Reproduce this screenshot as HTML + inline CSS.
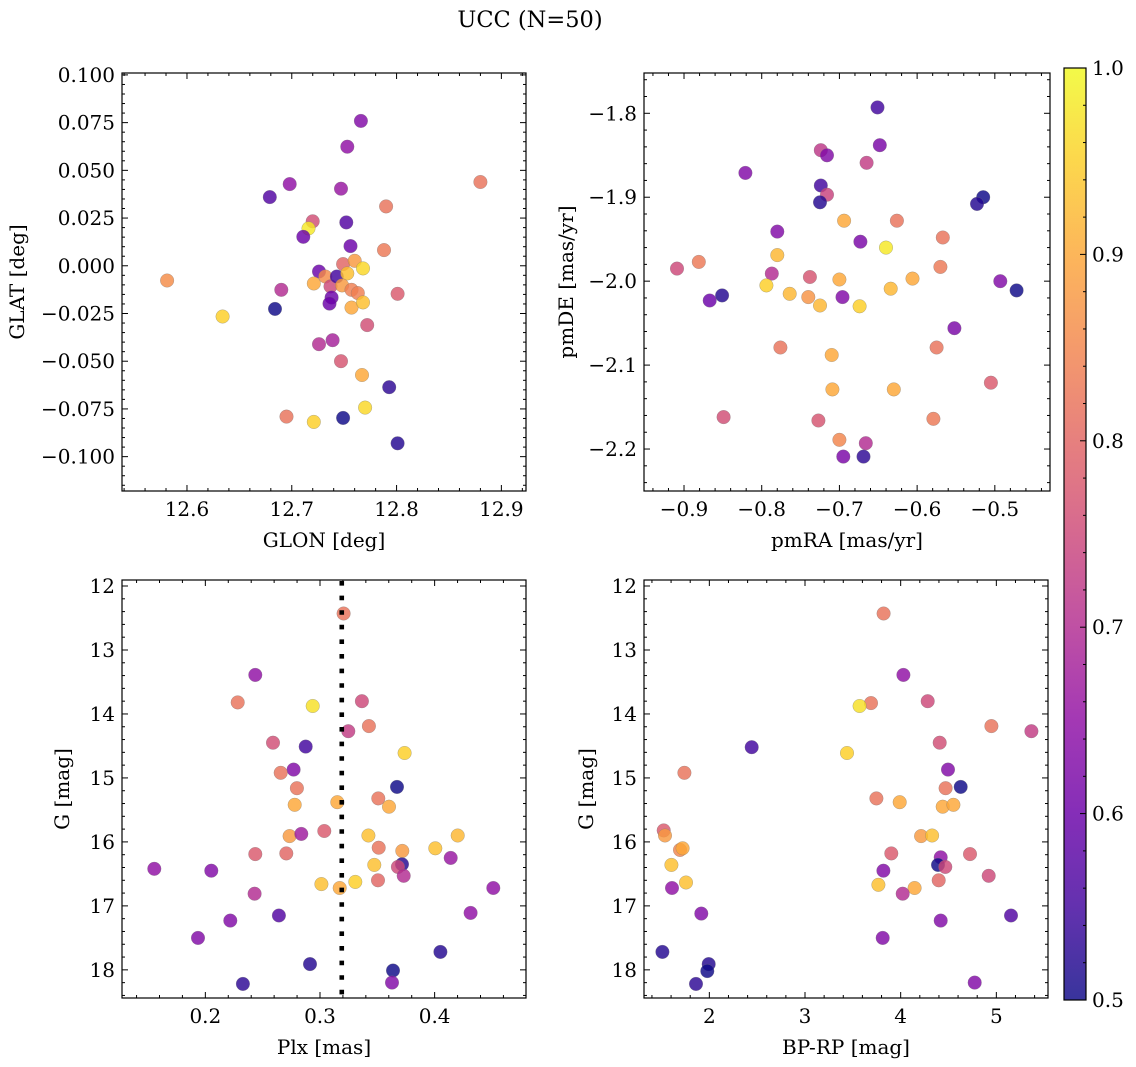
<!DOCTYPE html>
<html><head><meta charset="utf-8">
<style>
html,body{margin:0;padding:0;background:#fff;}
svg{display:block;font-family:"DejaVu Serif","Liberation Serif",serif;}
</style></head>
<body>
<svg id="fig" width="1136" height="1067" viewBox="0 0 1136 1067" xmlns="http://www.w3.org/2000/svg">
<defs><linearGradient id="cbgrad" x1="0" y1="1" x2="0" y2="0"></linearGradient></defs>
<text x="530" y="27" font-size="22.5" text-anchor="middle">UCC (N=50)</text>
</svg>
<script>
// Panel 1: GLON vs GLAT
const p1x=[12.766,12.753,12.698,12.679,12.747,12.880,12.790,12.720,12.716,12.711,12.752,12.756,12.788,12.581,12.634,12.684,12.690,12.726,12.721,12.732,12.737,12.743,12.749,12.760,12.753,12.768,12.748,12.757,12.763,12.738,12.736,12.757,12.768,12.801,12.772,12.726,12.739,12.747,12.767,12.793,12.770,12.695,12.721,12.749,12.801];
const p1y=[0.0759,0.0624,0.0428,0.0360,0.0404,0.0439,0.0311,0.0233,0.0196,0.0152,0.0227,0.0103,0.0082,-0.0077,-0.0266,-0.0226,-0.0126,-0.0030,-0.0093,-0.0056,-0.0108,-0.0056,0.0009,0.0026,-0.0040,-0.0014,-0.0103,-0.0126,-0.0143,-0.0166,-0.0198,-0.0219,-0.0192,-0.0147,-0.0311,-0.0411,-0.0390,-0.0500,-0.0572,-0.0636,-0.0743,-0.0790,-0.0818,-0.0797,-0.0930];
const p1c=[0.63,0.65,0.65,0.57,0.66,0.82,0.82,0.76,0.98,0.6,0.57,0.6,0.83,0.86,0.95,0.5,0.7,0.6,0.9,0.86,0.75,0.55,0.8,0.88,0.93,0.96,0.88,0.84,0.84,0.6,0.6,0.9,0.93,0.78,0.76,0.7,0.68,0.77,0.9,0.53,0.96,0.82,0.95,0.5,0.52];
// Panel 2: pmRA vs pmDE
const p2x=[-0.651,-0.648,-0.724,-0.716,-0.665,-0.821,-0.724,-0.716,-0.725,-0.515,-0.523,-0.694,-0.626,-0.780,-0.673,-0.640,-0.567,-0.780,-0.909,-0.881,-0.787,-0.570,-0.738,-0.700,-0.606,-0.493,-0.472,-0.794,-0.764,-0.740,-0.725,-0.696,-0.674,-0.634,-0.867,-0.851,-0.552,-0.776,-0.575,-0.710,-0.709,-0.630,-0.505,-0.849,-0.727,-0.579,-0.700,-0.666,-0.695,-0.669];
const p2y=[-1.793,-1.838,-1.844,-1.850,-1.859,-1.871,-1.886,-1.897,-1.906,-1.900,-1.908,-1.928,-1.928,-1.941,-1.953,-1.960,-1.948,-1.969,-1.985,-1.977,-1.991,-1.983,-1.995,-1.998,-1.997,-2.000,-2.011,-2.005,-2.015,-2.019,-2.029,-2.019,-2.030,-2.009,-2.023,-2.017,-2.056,-2.079,-2.079,-2.088,-2.129,-2.129,-2.121,-2.162,-2.166,-2.164,-2.189,-2.193,-2.209,-2.209];
const p2c=[0.55,0.62,0.72,0.63,0.73,0.63,0.55,0.74,0.52,0.5,0.52,0.9,0.82,0.63,0.62,0.98,0.82,0.92,0.75,0.83,0.7,0.83,0.77,0.9,0.9,0.63,0.5,0.95,0.92,0.87,0.92,0.63,0.95,0.92,0.6,0.52,0.62,0.82,0.82,0.9,0.9,0.9,0.78,0.76,0.77,0.83,0.85,0.7,0.62,0.53];
// Panel 3: Plx vs G
const p3x=[0.3206,0.2436,0.2282,0.2936,0.3366,0.3427,0.3247,0.2590,0.2875,0.3738,0.2770,0.2657,0.2799,0.3672,0.2779,0.3151,0.3509,0.3602,0.2735,0.2837,0.3038,0.3422,0.4201,0.2436,0.2706,0.3512,0.3718,0.4006,0.4140,0.1555,0.2052,0.3474,0.3715,0.3680,0.3730,0.3506,0.3012,0.3172,0.3308,0.4512,0.2430,0.2642,0.2218,0.4314,0.1936,0.4050,0.2913,0.3637,0.2328,0.3628];
const p3y=[12.43,13.39,13.82,13.875,13.80,14.19,14.27,14.45,14.51,14.61,14.87,14.92,15.16,15.14,15.42,15.38,15.32,15.45,15.91,15.875,15.83,15.90,15.90,16.19,16.18,16.09,16.14,16.10,16.25,16.42,16.45,16.36,16.35,16.39,16.53,16.60,16.66,16.72,16.625,16.72,16.81,17.15,17.23,17.11,17.50,17.72,17.91,18.01,18.22,18.20];
const p3c=[0.82,0.65,0.82,0.97,0.75,0.82,0.73,0.76,0.55,0.95,0.63,0.82,0.82,0.5,0.9,0.9,0.82,0.9,0.88,0.67,0.78,0.93,0.92,0.78,0.8,0.82,0.88,0.93,0.66,0.65,0.63,0.93,0.52,0.75,0.7,0.8,0.93,0.9,0.95,0.65,0.7,0.57,0.63,0.65,0.63,0.52,0.52,0.5,0.53,0.63];
// Panel 4: BP-RP vs G
const p4x=[3.822,4.028,3.690,3.571,4.282,4.948,5.366,4.408,2.443,3.439,4.495,1.739,4.470,4.627,3.746,3.990,4.439,4.551,1.523,1.537,4.213,4.328,1.693,1.721,3.902,4.725,1.603,4.418,4.390,4.467,3.819,4.920,1.610,1.756,3.767,4.146,4.397,4.021,1.916,4.418,5.153,3.812,1.509,1.993,1.979,1.861,4.774];
const p4y=[12.43,13.39,13.83,13.875,13.80,14.19,14.27,14.45,14.52,14.61,14.87,14.92,15.16,15.14,15.32,15.38,15.45,15.42,15.82,15.90,15.91,15.90,16.125,16.10,16.18,16.19,16.36,16.24,16.36,16.39,16.45,16.53,16.72,16.635,16.67,16.72,16.60,16.81,17.12,17.23,17.15,17.50,17.72,17.91,18.02,18.22,18.20];
const p4c=[0.82,0.65,0.82,0.97,0.75,0.82,0.73,0.76,0.55,0.95,0.63,0.82,0.82,0.5,0.82,0.9,0.9,0.9,0.78,0.88,0.88,0.93,0.85,0.9,0.78,0.78,0.93,0.65,0.5,0.75,0.63,0.75,0.65,0.93,0.93,0.9,0.8,0.7,0.63,0.63,0.57,0.63,0.52,0.52,0.5,0.53,0.63];
const plxLine=0.319;
const cbTicks=[0.5,0.6,0.7,0.8,0.9,1.0];

const NS="http://www.w3.org/2000/svg";
const svg=document.getElementById('fig');
const stops=[[0,[13,8,135]],[0.1,[65,4,157]],[0.2,[106,0,168]],[0.3,[143,13,164]],[0.4,[177,42,144]],[0.5,[204,71,120]],[0.6,[225,100,98]],[0.7,[242,132,75]],[0.8,[252,166,54]],[0.9,[252,206,37]],[1,[240,249,33]]];
function plasma(t){t=Math.max(0,Math.min(1,t));for(let i=1;i<stops.length;i++){if(t<=stops[i][0]){const a=stops[i-1],b=stops[i];const f=(t-a[0])/(b[0]-a[0]);const c=a[1].map((v,k)=>Math.round(v+(b[1][k]-v)*f));return `rgb(${c[0]},${c[1]},${c[2]})`;}}return 'rgb(240,249,33)';}
function cmap(v){return plasma((v-0.5)/0.5);}
function mk(tag,attrs,parent){const e=document.createElementNS(NS,tag);for(const k in attrs)e.setAttribute(k,attrs[k]);(parent||svg).appendChild(e);return e;}
function fmt(v,d){const s=Math.abs(v).toFixed(d);return (v< -1e-9?'\u2212':'')+s;}

function panel(o){
  const g=mk('g',{});
  
  
  const sx=v=>o.L+(v-o.x0)/(o.x1-o.x0)*(o.R-o.L);
  const sy=v=>o.yinv? o.T+(v-o.y0)/(o.y1-o.y0)*(o.B-o.T) : o.B-(v-o.y0)/(o.y1-o.y0)*(o.B-o.T);
  const pg=mk('g',{},g);
  
  
  for(let i=0;i<o.xs.length;i++){
    const c=mk('circle',{cx:sx(o.xs[i]).toFixed(1),cy:sy(o.ys[i]).toFixed(1),r:6.8,fill:cmap(o.cs[i]),'fill-opacity':0.82,stroke:'#777','stroke-width':0.4,'stroke-opacity':0.7},pg);
    
    
  }
  if(o.vline!==undefined){
    const l=mk('line',{x1:sx(o.vline),x2:sx(o.vline),y1:o.T+1,y2:o.B,stroke:'#000','stroke-width':4.6,'stroke-dasharray':'4.6 10'},g);
    
    
  }
  const tg=mk('g',{stroke:'#000','stroke-width':1},g);
  
  
  const eps=1e-9;
  for(let v=Math.ceil(o.x0/o.xmin-eps)*o.xmin; v<=o.x1+eps; v+=o.xmin){
    const X=sx(v); if(X<o.L+0.5||X>o.R-0.5) continue;
    const maj=Math.abs(v/o.xmaj-Math.round(v/o.xmaj))<1e-6; const len=maj?6:3;
    mk('line',{x1:X,x2:X,y1:o.B,y2:o.B-len},tg); mk('line',{x1:X,x2:X,y1:o.T,y2:o.T+len},tg);
  }
  for(let v=Math.ceil(Math.min(o.y0,o.y1)/o.ymin-eps)*o.ymin; v<=Math.max(o.y0,o.y1)+eps; v+=o.ymin){
    const Y=sy(v); if(Y<o.T+0.5||Y>o.B-0.5) continue;
    const maj=Math.abs(v/o.ymaj-Math.round(v/o.ymaj))<1e-6; const len=maj?6:3;
    mk('line',{x1:o.L,x2:o.L+len,y1:Y,y2:Y},tg); mk('line',{x1:o.R,x2:o.R-len,y1:Y,y2:Y},tg);
  }
  o.xt.forEach(v=>{const t=mk('text',{x:sx(v),y:o.B+25,'font-size':20,'text-anchor':'middle'},g);t.textContent=fmt(v,o.xd);
    
    });
  o.yt.forEach(v=>{const t=mk('text',{x:o.L-7,y:sy(v)+7,'font-size':20,'text-anchor':'end'},g);t.textContent=fmt(v,o.yd);
    
    });
  mk('rect',{x:o.L,y:o.T,width:o.R-o.L,height:o.B-o.T,fill:'none',stroke:'#000','stroke-width':1.2},g);
  const xl=mk('text',{x:(o.L+o.R)/2,y:o.B+56,'font-size':20,'text-anchor':'middle'},g);xl.textContent=o.xlab;
  
  
  const yl=mk('text',{x:0,y:0,'font-size':20,'text-anchor':'middle',transform:`translate(${o.ylx},${(o.T+o.B)/2}) rotate(-90)`},g);yl.textContent=o.ylab;
  
  
}

panel({name:'glon-glat-panel',L:122,R:526,T:73,B:491,x0:12.538,x1:12.9235,y0:-0.118,y1:0.101,xs:p1x,ys:p1y,cs:p1c,
  xmaj:0.1,xmin:0.02,ymaj:0.025,ymin:0.005,xt:[12.6,12.7,12.8,12.9],xd:1,yt:[-0.1,-0.075,-0.05,-0.025,0,0.025,0.05,0.075,0.1],yd:3,
  xlab:'GLON [deg]',ylab:'GLAT [deg]',ylx:24});
panel({name:'proper-motion-panel',L:644,R:1050,T:73,B:491,x0:-0.9515,x1:-0.429,y0:-2.25,y1:-1.752,xs:p2x,ys:p2y,cs:p2c,
  xmaj:0.1,xmin:0.02,ymaj:0.1,ymin:0.02,xt:[-0.9,-0.8,-0.7,-0.6,-0.5],xd:1,yt:[-2.2,-2.1,-2.0,-1.9,-1.8],yd:1,
  xlab:'pmRA [mas/yr]',ylab:'pmDE [mas/yr]',ylx:573});
panel({name:'parallax-magnitude-panel',L:122,R:526,T:580,B:998,x0:0.1273,x1:0.4797,y0:11.906,y1:18.44,yinv:true,xs:p3x,ys:p3y,cs:p3c,
  xmaj:0.1,xmin:0.02,ymaj:1,ymin:0.2,xt:[0.2,0.3,0.4],xd:1,yt:[12,13,14,15,16,17,18],yd:0,
  xlab:'Plx [mas]',ylab:'G [mag]',ylx:69,vline:plxLine});
panel({name:'color-magnitude-panel',L:644,R:1048,T:580,B:998,x0:1.317,x1:5.54,y0:11.906,y1:18.44,yinv:true,xs:p4x,ys:p4y,cs:p4c,
  xmaj:1,xmin:0.2,ymaj:1,ymin:0.2,xt:[2,3,4,5],xd:0,yt:[12,13,14,15,16,17,18],yd:0,
  xlab:'BP-RP [mag]',ylab:'G [mag]',ylx:593});

const grad=document.getElementById('cbgrad');
for(let i=0;i<=20;i++){mk('stop',{offset:(i/20),'stop-color':plasma(i/20),'stop-opacity':0.82},grad);}
const cbT=68,cbB=1000,cbL=1064,cbR=1086;
const cg=mk('g',{});


mk('rect',{x:cbL,y:cbT,width:cbR-cbL,height:cbB-cbT,fill:'url(#cbgrad)',stroke:'#000','stroke-width':1.2},cg);
const cy=v=>cbB-(v-0.5)/0.5*(cbB-cbT);
for(let v=0.52;v<1.0-1e-9;v+=0.02){const Y=cy(v);const maj=Math.abs(v*10-Math.round(v*10))<1e-6;mk('line',{x1:cbR,x2:cbR-(maj?6:3),y1:Y,y2:Y,stroke:'#000'},cg);}
cbTicks.forEach(v=>{const t=mk('text',{x:cbR+6,y:cy(v)+7,'font-size':20},cg);t.textContent=v.toFixed(1);
  
  });
</script>
</body></html>
